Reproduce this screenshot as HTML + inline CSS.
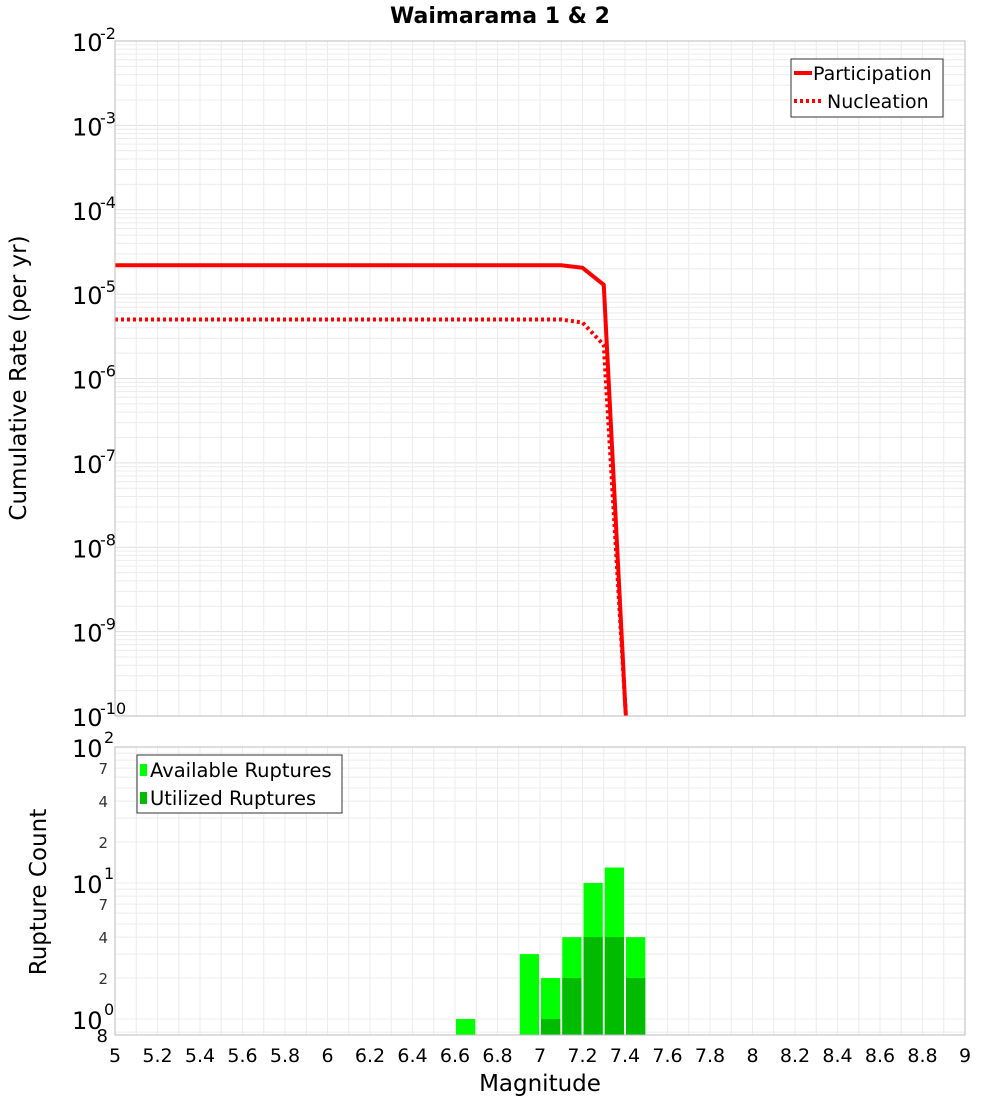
<!DOCTYPE html>
<html><head><meta charset="utf-8"><style>
body{margin:0;background:#fff}
svg{font-family:"DejaVu Sans","Liberation Sans",sans-serif}
</style></head><body>
<svg id="c" width="1000" height="1100" xmlns="http://www.w3.org/2000/svg"></svg>
<script>
const mags = [5.0,5.1,5.2,5.3,5.4,5.5,5.6,5.7,5.8,5.9,6.0,6.1,6.2,6.3,6.4,6.5,6.6,6.7,6.8,6.9,7.0,7.1,7.2,7.3,7.4,7.5];
const participation = [2.2e-5,2.2e-5,2.2e-5,2.2e-5,2.2e-5,2.2e-5,2.2e-5,2.2e-5,2.2e-5,2.2e-5,2.2e-5,2.2e-5,2.2e-5,2.2e-5,2.2e-5,2.2e-5,2.2e-5,2.2e-5,2.2e-5,2.2e-5,2.2e-5,2.2e-5,2.05e-5,1.29e-5,1.5e-10,1e-14];
const nucleation = [5.0e-6,5.0e-6,5.0e-6,5.0e-6,5.0e-6,5.0e-6,5.0e-6,5.0e-6,5.0e-6,5.0e-6,5.0e-6,5.0e-6,5.0e-6,5.0e-6,5.0e-6,5.0e-6,5.0e-6,5.0e-6,5.0e-6,5.0e-6,5.0e-6,5.0e-6,4.6e-6,2.5e-6,1.5e-10,1e-14];
const binStarts = [6.6,6.9,7.0,7.1,7.2,7.3,7.4];
const available = [1,3,2,4,10,13,4];
const utilized = [0,0,1,2,4,4,2];
const xTicks = [5,5.2,5.4,5.6,5.8,6,6.2,6.4,6.6,6.8,7,7.2,7.4,7.6,7.8,8,8.2,8.4,8.6,8.8,9];

const NS="http://www.w3.org/2000/svg", svg=document.getElementById('c');
function el(t,a,p){const e=document.createElementNS(NS,t);for(const k in a)e.setAttribute(k,a[k]);(p||svg).appendChild(e);return e;}
const X0=115,X1=965;
const x=m=>X0+(m-5)/4*(X1-X0);
const T0=41,T1=716, yT=v=>T0+(-2-Math.log10(v))/8*(T1-T0);
const B0=747,B1=1035, BP=136, yB=v=>B0+(2-Math.log10(v))*BP;

let g=el('g',{});
for(let d=-10;d<-2;d++)for(let k=1;k<10;k++){const yy=yT(k*Math.pow(10,d));el('line',{x1:X0,x2:X1,y1:yy,y2:yy,stroke:k==1?'#e0e0e0':'#ececec','stroke-width':1},g);}
for(let m=5;m<=9.001;m+=0.1){el('line',{x1:x(m),x2:x(m),y1:T0,y2:T1,stroke:'#ececec'},g);}
let g2=el('g',{});
[0.8,1,2,3,4,5,6,7,8,9,10,20,30,40,50,60,70,80,90].forEach(v=>{const yy=yB(v);if(yy<=B1)el('line',{x1:X0,x2:X1,y1:yy,y2:yy,stroke:'#ececec'},g2);});
for(let m=5;m<=9.001;m+=0.1){el('line',{x1:x(m),x2:x(m),y1:B0,y2:B1,stroke:'#ececec'},g2);}

const defs=el('defs',{});const cp=el('clipPath',{id:'ct'},defs);el('rect',{x:X0,y:T0,width:X1-X0,height:T1-T0},cp);
function line(vals,name,dash){const pts=mags.map((m,i)=>x(m)+','+yT(vals[i])).join(' ');
 const p=el('polyline',{points:pts,fill:'none',stroke:'#ff0000','stroke-width':4,'clip-path':'url(#ct)','stroke-dasharray':dash||'none'});
 }
line(nucleation,'nucleation-line','3,3');
line(participation,'participation-line');

binStarts.forEach((b,i)=>{
 const xa=x(b)+1,w=x(b+0.1)-x(b)-2;
 let r=el('rect',{x:xa,y:yB(available[i]),width:w,height:B1-yB(available[i]),fill:'#00ff00'});
 
 if(utilized[i]>0){let u=el('rect',{x:xa,y:yB(utilized[i]),width:w,height:B1-yB(utilized[i]),fill:'#00bb00'});
 }
});

el('rect',{x:X0,y:T0,width:X1-X0,height:T1-T0,fill:'none',stroke:'#bbb'});
el('rect',{x:X0,y:B0,width:X1-X0,height:B1-B0,fill:'none',stroke:'#bbb'});

for(let d=-2;d>=-10;d--){const yy=yT(Math.pow(10,d));
 const t=el('text',{x:72,y:yy+10,'font-size':24});t.textContent='10';
 
 const s=el('text',{x:100,y:yy-2,'font-size':16});s.textContent=String(d);}
[[100,'10','2'],[10,'10','1'],[1,'10','0']].forEach(a=>{const yy=yB(a[0]);
 const t=el('text',{x:72,y:yy+10,'font-size':24});t.textContent=a[1];
 
 const s=el('text',{x:104,y:yy-4,'font-size':16});s.textContent=a[2];});
[70,40,20,7,4,2].forEach(v=>{const t=el('text',{x:108,y:yB(v)+6,'font-size':15,'text-anchor':'end',fill:'#333'});t.textContent=String(v).charAt(0);});
{const t=el('text',{x:108,y:1042,'font-size':18,'text-anchor':'end'});t.textContent='8';}

xTicks.forEach(m=>{const t=el('text',{x:x(m),y:1062,'font-size':19,'text-anchor':'middle'});t.textContent=String(m);
 });

let t=el('text',{x:500,y:23,'font-size':22,'font-weight':'bold','text-anchor':'middle'});t.textContent='Waimarama 1 & 2';
t=el('text',{x:540,y:1091,'font-size':23,'text-anchor':'middle'});t.textContent='Magnitude';
t=el('text',{x:0,y:0,'font-size':23,'text-anchor':'middle',transform:'translate(26,378) rotate(-90)'});t.textContent='Cumulative Rate (per yr)';
t=el('text',{x:0,y:0,'font-size':23,'text-anchor':'middle',transform:'translate(46,892) rotate(-90)'});t.textContent='Rupture Count';

let lg=el('g',{});
el('rect',{x:791,y:59,width:152,height:58,fill:'#fff',stroke:'#333'},lg);
el('line',{x1:794,x2:812,y1:73,y2:73,stroke:'#f00','stroke-width':4},lg);
el('line',{x1:794,x2:822,y1:101,y2:101,stroke:'#f00','stroke-width':4,'stroke-dasharray':'3,3'},lg);
t=el('text',{x:813,y:80,'font-size':19},lg);t.textContent='Participation';
t=el('text',{x:827,y:108,'font-size':19},lg);t.textContent='Nucleation';
let lg2=el('g',{});
el('rect',{x:137,y:755,width:205,height:58,fill:'#fff',stroke:'#333'},lg2);
el('rect',{x:140,y:764,width:7,height:12,fill:'#00ff00'},lg2);
el('rect',{x:140,y:792,width:7,height:12,fill:'#00bb00'},lg2);
t=el('text',{x:150,y:777,'font-size':19.5},lg2);t.textContent='Available Ruptures';
t=el('text',{x:150,y:805,'font-size':19.5},lg2);t.textContent='Utilized Ruptures';
</script>
</body></html>
